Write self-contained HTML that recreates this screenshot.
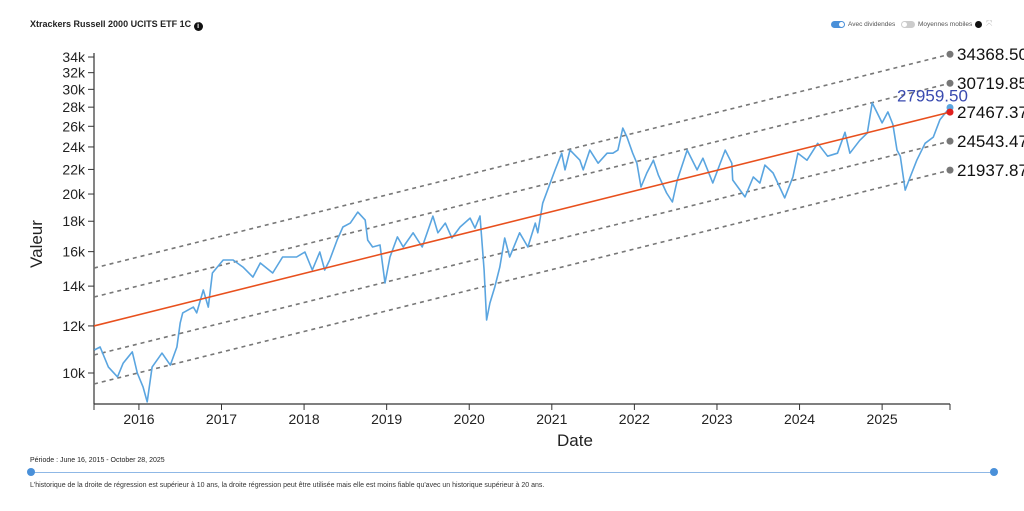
<!DOCTYPE html>
<html><head><meta charset="utf-8">
<style>
body{margin:0;width:1024px;height:511px;background:#fff;font-family:"Liberation Sans",sans-serif;overflow:hidden;position:relative}
.t{position:absolute;white-space:nowrap}
</style></head><body>
<div class="t" style="left:30px;top:19px;font-size:9px;font-weight:bold;color:#222">Xtrackers Russell 2000 UCITS ETF 1C <span style="display:inline-block;width:9px;height:9px;border-radius:50%;background:#111;color:#fff;font-size:7px;text-align:center;line-height:9px;vertical-align:-1px">i</span></div>
<div style="position:absolute;left:831px;top:21px;width:14px;height:7px;border-radius:4px;background:#4a90d9"><div style="position:absolute;right:1px;top:1px;width:5px;height:5px;border-radius:50%;background:#fff"></div></div>
<div class="t" style="left:848px;top:21px;font-size:6.5px;color:#555">Avec dividendes</div>
<div style="position:absolute;left:901px;top:21px;width:14px;height:7px;border-radius:4px;background:#ccc"><div style="position:absolute;left:1px;top:1px;width:5px;height:5px;border-radius:50%;background:#fff"></div></div>
<div class="t" style="left:918px;top:21px;font-size:6.5px;color:#555">Moyennes mobiles</div>
<div style="position:absolute;left:975px;top:21px;width:7px;height:7px;border-radius:50%;background:#111"></div>
<div class="t" style="left:986px;top:19px;font-size:8px;color:#bbb">⤧</div>

<svg id="chart" width="1024" height="511" style="position:absolute;left:0;top:0"></svg>

<div class="t" style="left:30px;top:457px;font-size:7px;color:#222">Période : June 16, 2015 - October 28, 2025</div>
<div style="position:absolute;left:31px;top:472px;width:963px;height:1px;background:#8fb8e6"></div>
<div style="position:absolute;left:27px;top:468px;width:8px;height:8px;border-radius:50%;background:#4a90d9"></div>
<div style="position:absolute;left:990px;top:468px;width:8px;height:8px;border-radius:50%;background:#4a90d9"></div>
<div class="t" style="left:30px;top:482px;font-size:7px;color:#333">L'historique de la droite de régression est supérieur à 10 ans, la droite régression peut être utilisée mais elle est moins fiable qu'avec un historique supérieur à 20 ans.</div>

<script>
const dates=[2015.46,2015.53,2015.63,2015.74,2015.81,2015.92,2015.98,2016.05,2016.10,2016.16,2016.28,2016.38,2016.46,2016.50,2016.53,2016.66,2016.70,2016.78,2016.84,2016.89,2017.02,2017.14,2017.26,2017.38,2017.47,2017.62,2017.74,2017.91,2018.01,2018.10,2018.19,2018.25,2018.31,2018.40,2018.47,2018.56,2018.65,2018.74,2018.77,2018.83,2018.92,2018.98,2019.04,2019.13,2019.20,2019.32,2019.43,2019.56,2019.62,2019.71,2019.79,2019.89,2020.01,2020.07,2020.13,2020.15,2020.18,2020.21,2020.25,2020.31,2020.37,2020.43,2020.49,2020.61,2020.71,2020.80,2020.83,2020.89,2020.98,2021.04,2021.12,2021.16,2021.22,2021.34,2021.38,2021.46,2021.56,2021.67,2021.74,2021.80,2021.86,2021.91,2021.98,2022.03,2022.08,2022.15,2022.23,2022.29,2022.39,2022.46,2022.52,2022.64,2022.76,2022.83,2022.95,2023.10,2023.18,2023.19,2023.34,2023.44,2023.52,2023.58,2023.68,2023.82,2023.92,2023.98,2024.09,2024.22,2024.34,2024.46,2024.55,2024.61,2024.73,2024.82,2024.88,2024.94,2025.00,2025.07,2025.13,2025.18,2025.22,2025.28,2025.34,2025.42,2025.52,2025.62,2025.70,2025.82];
const values=[10930,11060,10230,9850,10390,10850,10000,9470,8940,10230,10800,10310,11060,12140,12620,12910,12620,13790,12910,14730,15490,15490,15070,14500,15310,14730,15670,15670,15980,14900,15980,14900,15490,16730,17600,17870,18650,18080,16730,16290,16420,14170,15670,16940,16290,17210,16290,18360,17210,17870,16870,17600,18220,17530,18370,16940,14900,12280,13110,13950,15070,16870,15670,17210,16290,17870,17210,19300,20870,21960,23430,21960,23710,22800,21960,23710,22540,23430,23430,23710,25820,24930,23430,22540,20550,21700,22800,21540,20080,19390,21120,23710,21960,22980,20870,23710,22540,21120,19780,21360,20870,22370,21700,19700,21360,23430,22800,24340,23160,23430,25400,23430,24630,25320,28460,27380,26340,27490,26180,23710,23160,20310,21360,22800,24340,24930,26660,27959.5];
const yTicks=[10000,12000,14000,16000,18000,20000,22000,24000,26000,28000,30000,32000,34000];
const yTickLabels=["10k","12k","14k","16k","18k","20k","22k","24k","26k","28k","30k","32k","34k"];
const xTicks=[2016,2017,2018,2019,2020,2021,2022,2023,2024,2025];
const regStart=12000, regEnd=27467.37;
const bandValues=[34368.50,30719.85,24543.47,21937.87];
const lastValue=27959.50;

const NS="http://www.w3.org/2000/svg",svg=document.getElementById('chart');
const t0=2015.456,t1=2025.822,X0=94,X1=950;
const xs=t=>X0+(t-t0)/(t1-t0)*(X1-X0);
const ys=v=>373-258.2*Math.log(v/10000);
function mk(tag,a,p){const e=document.createElementNS(NS,tag);for(const k in a)e.setAttribute(k,a[k]);(p||svg).appendChild(e);return e;}
let e=mk('line',{x1:X0,y1:53,x2:X0,y2:404,stroke:'#333','stroke-width':1.2});


e=mk('line',{x1:X0,y1:404,x2:X1,y2:404,stroke:'#333','stroke-width':1.2});


mk('line',{x1:X0,y1:404,x2:X0,y2:410,stroke:'#333'});
mk('line',{x1:X1,y1:404,x2:X1,y2:410,stroke:'#333'});
yTicks.forEach((v,i)=>{const y=ys(v);
 mk('line',{x1:X0-6,y1:y,x2:X0,y2:y,stroke:'#333'});
 const t=mk('text',{x:X0-9,y:y+5,'text-anchor':'end','font-size':14,fill:'#222'});t.textContent=yTickLabels[i];
 
 });
xTicks.forEach(yr=>{const x=xs(yr);
 mk('line',{x1:x,y1:404,x2:x,y2:410,stroke:'#333'});
 const t=mk('text',{x:x,y:424,'text-anchor':'middle','font-size':14,fill:'#222'});t.textContent=yr;
 
 });
let tt=mk('text',{x:575,y:446,'text-anchor':'middle','font-size':17,fill:'#222'});tt.textContent='Date';


tt=mk('text',{x:42,y:244,'text-anchor':'middle','font-size':17,fill:'#222',transform:'rotate(-90 42 244)'});tt.textContent='Valeur';


bandValues.forEach(b=>{const r=b/regEnd;
 const l=mk('line',{x1:X0,y1:ys(regStart*r),x2:X1,y2:ys(b),stroke:'#777','stroke-width':1.6,'stroke-dasharray':'4,4'});
 
 
 const c=mk('circle',{cx:X1,cy:ys(b),r:3.5,fill:'#777'});
 
 
 const t=mk('text',{x:957,y:ys(b)+6,'font-size':17,fill:'#111'});t.textContent=b.toFixed(2);
 
 });
const pl=mk('polyline',{points:dates.map((d,i)=>xs(d).toFixed(1)+','+ys(values[i]).toFixed(1)).join(' '),fill:'none',stroke:'#5aa5e0','stroke-width':1.6,'stroke-linejoin':'round'});


const rl=mk('line',{x1:X0,y1:ys(regStart),x2:X1,y2:ys(regEnd),stroke:'#e8501e','stroke-width':1.6});


let c=mk('circle',{cx:X1,cy:ys(lastValue),r:3.5,fill:'#5aa5e0'});


c=mk('circle',{cx:X1,cy:ys(regEnd),r:3.5,fill:'#e0201e'});


let lt=mk('text',{x:897,y:ys(lastValue)-6,'font-size':17,fill:'#3a4bb0'});lt.textContent=lastValue.toFixed(2);


lt=mk('text',{x:957,y:ys(regEnd)+6,'font-size':17,fill:'#111'});lt.textContent=regEnd.toFixed(2);


</script>
</body></html>
